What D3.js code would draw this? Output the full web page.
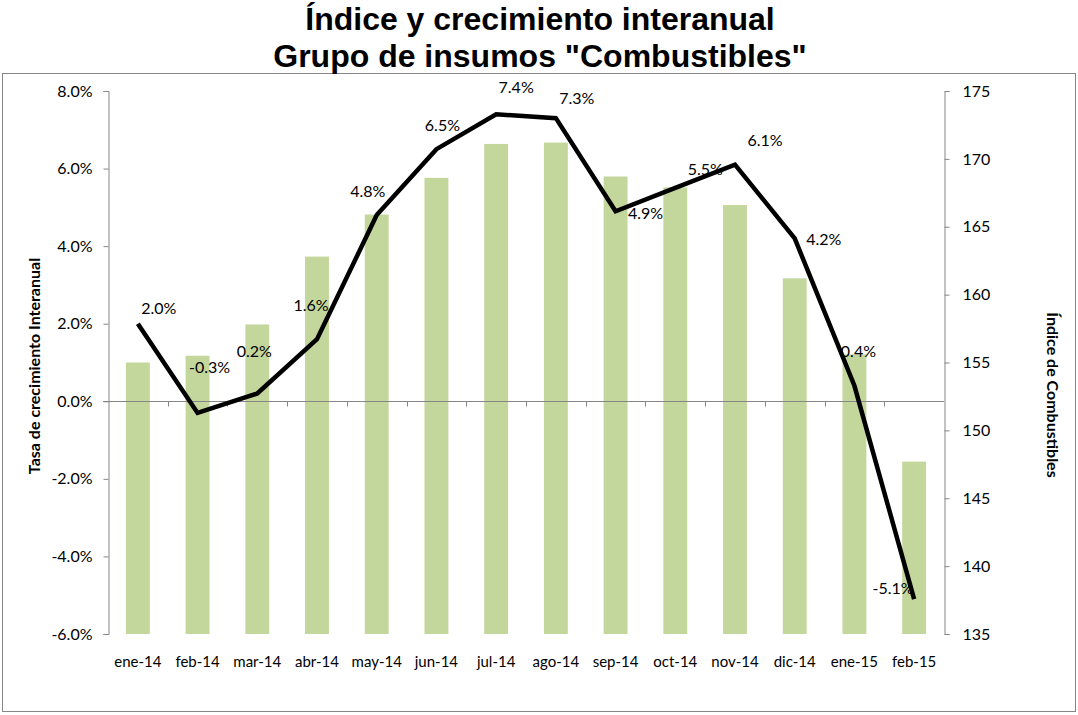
<!DOCTYPE html>
<html>
<head>
<meta charset="utf-8">
<script src="https://cdn.jsdelivr.net/npm/d3@7"></script>
<style>
  body { margin: 0; background: #fff; }
  svg { display: block; }
  .tick-label { font-family: Lato, "Open Sans", sans-serif; font-size: 16px; fill: #000; }
  .cat-label { font-family: Lato, "Open Sans", sans-serif; font-size: 15px; fill: #000; }
  .data-label { font-family: Lato, "Open Sans", sans-serif; font-size: 16px; fill: #000; }
  .axis-title { font-family: Lato, "Open Sans", sans-serif; font-size: 16px; font-weight: bold; fill: #000; }
  .title { font-family: "Liberation Sans", Arial, sans-serif; font-size: 32px; font-weight: bold; fill: #000; }
</style>
</head>
<body>
<div id="chart"></div>
<script>
// ---- Data ----
const months = ["ene-14", "feb-14", "mar-14", "abr-14", "may-14", "jun-14", "jul-14",
                "ago-14", "sep-14", "oct-14", "nov-14", "dic-14", "ene-15", "feb-15"];
const indexValues = [155.0, 155.5, 157.8, 162.8, 165.9, 168.6, 171.1,
                     171.2, 168.7, 167.9, 166.6, 161.2, 155.6, 147.7];
const growthValues = [2.0, -0.3, 0.2, 1.6, 4.8, 6.5, 7.4, 7.3, 4.9, 5.5, 6.1, 4.2, 0.4, -5.1];
const leftTicks = [-6, -4, -2, 0, 2, 4, 6, 8];
const rightTicks = [135, 140, 145, 150, 155, 160, 165, 170, 175];

// label offsets (layout only) relative to each line point
const labelDx = [21, 12, -3, -6, -9, 6, 20, 21, 30, 30, 30, 29, 4, -21];
const labelDy = [-15, -46, -42, -34, -24, -24, -27, -20, 2, -19, -24, 1, -34, -11];

// ---- Setup ----
const width = 1078, height = 715;
const plot = { left: 108, right: 944, top: 91, bottom: 634 };
const axisColor = "#868686";
const barColor = "#c3d69b";

// plain hyphen for negatives, like the original
const locale = d3.formatLocale({ decimal: ".", thousands: ",", grouping: [3], currency: ["", ""], minus: "-" });
const pct = d => locale.format(".1f")(d) + "%";

const svg = d3.select("#chart")
    .append("svg")
    .attr("width", width)
    .attr("height", height);

// outer chart border
svg.append("rect")
    .attr("x", 2.5)
    .attr("y", 73.5)
    .attr("width", 1073)
    .attr("height", 638)
    .attr("fill", "none")
    .attr("stroke", axisColor)
    .attr("stroke-width", 1);

// ---- Title ----
svg.append("text")
    .attr("class", "title")
    .attr("x", 540)
    .attr("y", 30)
    .attr("text-anchor", "middle")
    .text("Índice y crecimiento interanual");

svg.append("text")
    .attr("class", "title")
    .attr("x", 540)
    .attr("y", 67)
    .attr("text-anchor", "middle")
    .text("Grupo de insumos \"Combustibles\"");

// ---- Scales ----
const xScale = d3.scaleBand()
    .domain(months)
    .range([plot.left, plot.right])
    .paddingInner(0.6)
    .paddingOuter(0.3);

const yLeft = d3.scaleLinear()
    .domain([-6, 8])
    .range([plot.bottom, plot.top]);

const yRight = d3.scaleLinear()
    .domain([135, 175])
    .range([plot.bottom, plot.top]);

const step = xScale.step();
const center = d => xScale(d) + xScale.bandwidth() / 2;

// ---- Bars (right axis) ----
svg.selectAll(".bar")
    .data(months)
    .join("rect")
    .attr("class", "bar")
    .attr("x", d => xScale(d))
    .attr("width", xScale.bandwidth())
    .attr("y", (d, i) => yRight(indexValues[i]))
    .attr("height", (d, i) => yRight(135) - yRight(indexValues[i]))
    .attr("fill", barColor);

// ---- Left axis ----
const leftAxis = svg.append("g")
    .attr("transform", `translate(${plot.left + 0.5},0)`)
    .call(d3.axisLeft(yLeft).tickValues(leftTicks).tickSize(5).tickFormat(pct));
leftAxis.select(".domain").attr("stroke", axisColor);
leftAxis.selectAll(".tick line").attr("stroke", axisColor);
leftAxis.selectAll(".tick text")
    .attr("class", "tick-label")
    .attr("x", -16);
leftAxis.attr("font-family", null).attr("font-size", null);

// ---- Right axis ----
const rightAxis = svg.append("g")
    .attr("transform", `translate(${plot.right + 0.5},0)`)
    .call(d3.axisRight(yRight).tickValues(rightTicks).tickSize(5));
rightAxis.select(".domain").attr("stroke", axisColor);
rightAxis.selectAll(".tick line").attr("stroke", axisColor);
rightAxis.selectAll(".tick text")
    .attr("class", "tick-label")
    .attr("x", 18);
rightAxis.attr("font-family", null).attr("font-size", null);

// ---- Zero line with category ticks ----
const zeroY = Math.round(yLeft(0)) + 0.5;
svg.append("line")
    .attr("x1", plot.left - 5)
    .attr("x2", plot.right)
    .attr("y1", zeroY)
    .attr("y2", zeroY)
    .attr("stroke", axisColor);

svg.selectAll(".cat-tick")
    .data(months.slice(1))
    .join("line")
    .attr("class", "cat-tick")
    .attr("x1", d => Math.round(xScale(d) - step * 0.3) + 0.5)
    .attr("x2", d => Math.round(xScale(d) - step * 0.3) + 0.5)
    .attr("y1", zeroY)
    .attr("y2", zeroY + 5)
    .attr("stroke", axisColor);

// ---- Category labels ----
svg.selectAll(".cat-label")
    .data(months)
    .join("text")
    .attr("class", "cat-label")
    .attr("x", d => center(d))
    .attr("y", 667)
    .attr("text-anchor", "middle")
    .text(d => d);

// ---- Line (left axis) ----
const line = d3.line()
    .x((d, i) => center(months[i]))
    .y(d => yLeft(d));

svg.append("path")
    .datum(growthValues)
    .attr("d", line)
    .attr("fill", "none")
    .attr("stroke", "#000")
    .attr("stroke-width", 4.5)
    .attr("stroke-linejoin", "miter");

// ---- Data labels ----
svg.selectAll(".data-label")
    .data(growthValues)
    .join("text")
    .attr("class", "data-label")
    .attr("x", (d, i) => center(months[i]) + labelDx[i])
    .attr("y", (d, i) => yLeft(d) + labelDy[i])
    .attr("dy", "0.35em")
    .attr("text-anchor", "middle")
    .text(pct);

// ---- Axis titles ----
svg.append("text")
    .attr("class", "axis-title")
    .attr("transform", "translate(40,366) rotate(-90)")
    .attr("text-anchor", "middle")
    .text("Tasa de crecimiento Interanual");

svg.append("text")
    .attr("class", "axis-title")
    .attr("transform", "translate(1047,395) rotate(90)")
    .attr("text-anchor", "middle")
    .text("Índice  de Combustibles");
</script>
</body>
</html>
